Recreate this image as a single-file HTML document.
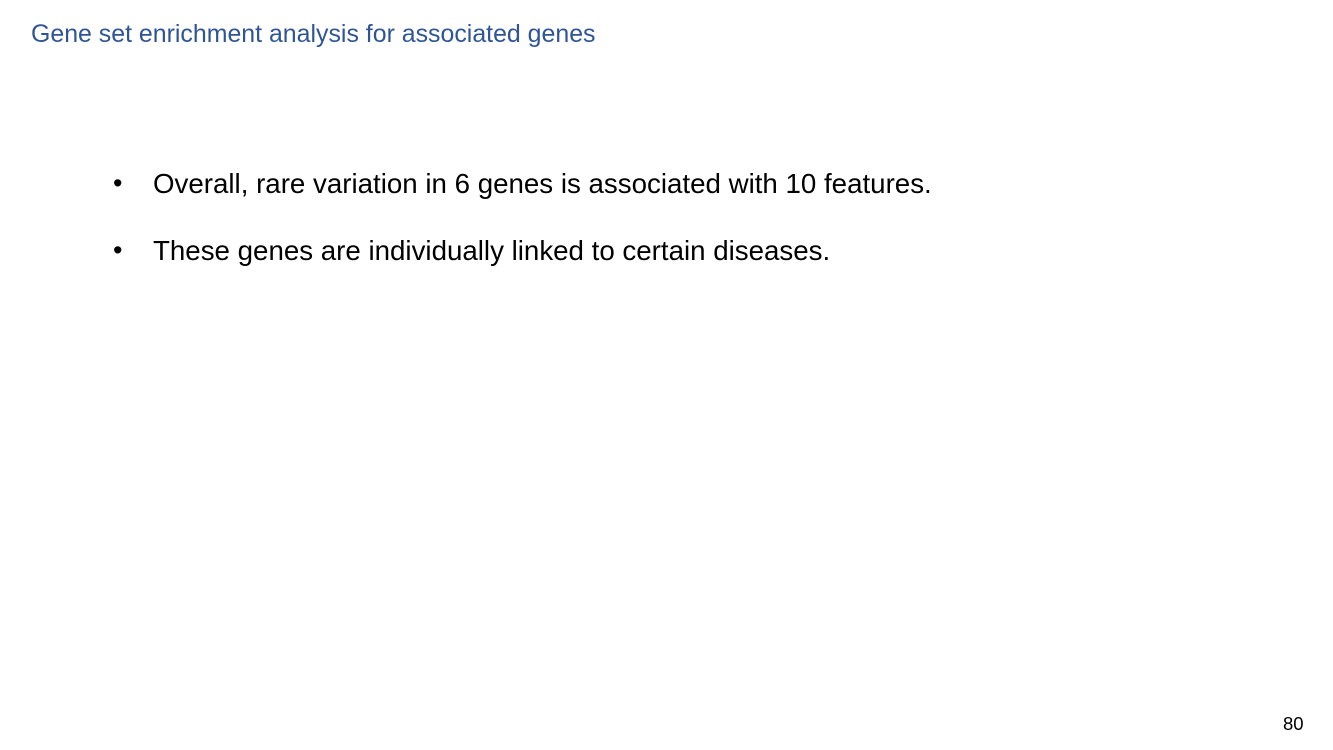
<!DOCTYPE html>
<html>
<head>
<meta charset="utf-8">
<style>
  html, body { margin: 0; padding: 0; background: #ffffff; }
  body { width: 1333px; height: 750px; position: relative; overflow: hidden; font-family: "Liberation Sans", Arial, sans-serif; }
  .title { position: absolute; left: 31px; top: 20px; font-size: 24.9px; color: #2F5597; white-space: nowrap; }
  .bullet { position: absolute; left: 113px; font-size: 27.7px; color: #000; white-space: nowrap; }
  .bullet .dot { display: inline-block; width: 40px; font-size: 27px; vertical-align: 1px; }
  .pnum { position: absolute; left: 1283px; top: 713px; font-size: 18.5px; color: #000; }
</style>
</head>
<body>
  <div class="title">Gene set enrichment analysis for associated genes</div>
  <div class="bullet" style="top:168px"><span class="dot">•</span>Overall, rare variation in 6 genes is associated with 10 features.</div>
  <div class="bullet" style="top:235px"><span class="dot">•</span>These genes are individually linked to certain diseases.</div>
  <div class="pnum">80</div>
</body>
</html>
